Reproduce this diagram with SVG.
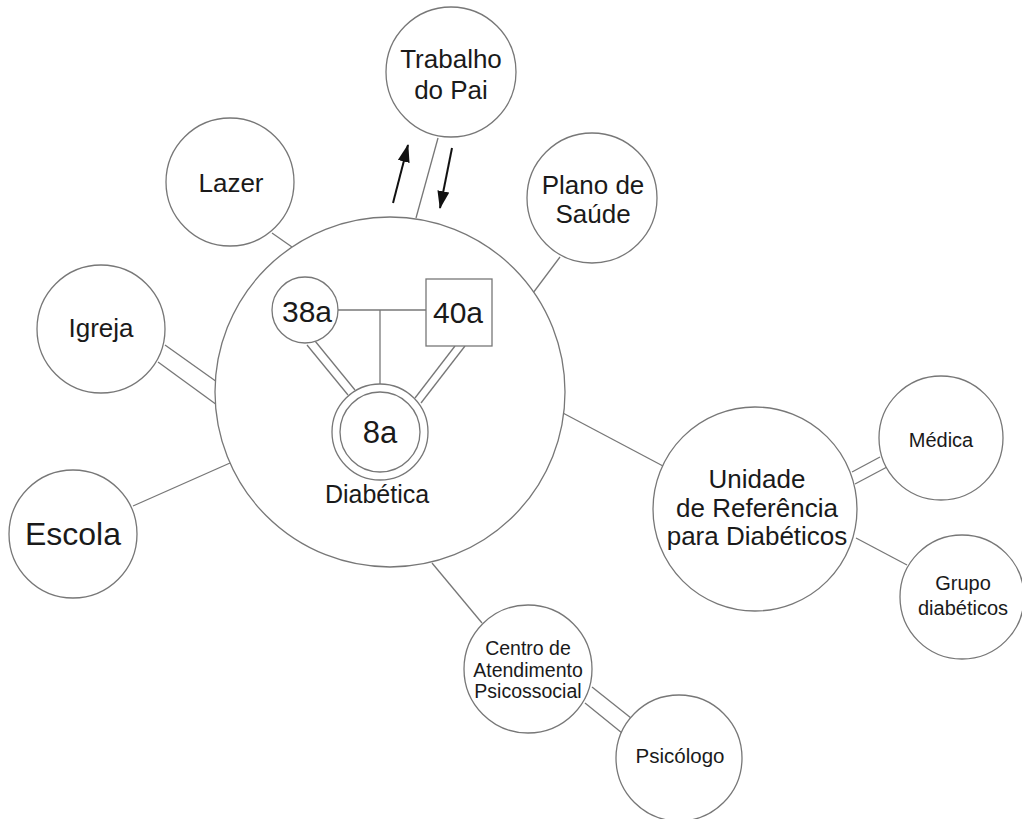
<svg xmlns="http://www.w3.org/2000/svg" width="1022" height="819" viewBox="0 0 1022 819">
<style>
.n{fill:#fff;stroke:#777;stroke-width:1.3}
.c line{stroke:#777;stroke-width:1.3}
text{font-family:"Liberation Sans",Arial,sans-serif;fill:#1a1a1a;text-anchor:middle}
.c line.ar{stroke:#111;stroke-width:2}
</style>
<defs>
<marker id="ah" viewBox="0 0 18 12" refX="17" refY="6" markerWidth="18" markerHeight="12" markerUnits="userSpaceOnUse" orient="auto">
<path d="M0,0 L18,6 L0,12 Z" fill="#111"/>
</marker>
</defs>
<rect width="1022" height="819" fill="#fff"/>
<g class="c" id="connectors">
<line x1="438" y1="138" x2="416" y2="218"/>
<line x1="272" y1="233" x2="292" y2="247"/>
<line x1="560" y1="257" x2="533" y2="293"/>
<line x1="165" y1="345" x2="217" y2="382"/>
<line x1="158" y1="362" x2="217" y2="405"/>
<line x1="133" y1="506" x2="230" y2="463"/>
<line x1="561" y1="412" x2="663" y2="466"/>
<line x1="432" y1="563" x2="482" y2="623"/>
<line x1="852" y1="472" x2="880" y2="457"/>
<line x1="855" y1="484" x2="887" y2="467"/>
<line x1="856" y1="538" x2="907" y2="565"/>
<line x1="592" y1="687" x2="631" y2="718"/>
<line x1="585" y1="703" x2="622" y2="733"/>
<line class="ar" x1="393" y1="203" x2="408" y2="145" marker-end="url(#ah)"/>
<line class="ar" x1="452" y1="148" x2="440" y2="208" marker-end="url(#ah)"/>
</g>
<g id="trabalho"><circle class="n" cx="451" cy="72" r="65"/><text x="451" y="68" font-size="26">Trabalho</text><text x="451" y="99" font-size="26">do Pai</text></g>
<g id="lazer"><circle class="n" cx="230" cy="182" r="64"/><text x="231" y="192" font-size="26">Lazer</text></g>
<g id="plano"><circle class="n" cx="592" cy="198" r="65"/><text x="593" y="194" font-size="26">Plano de</text><text x="593" y="223" font-size="26">Saúde</text></g>
<g id="igreja"><circle class="n" cx="101" cy="329" r="64"/><text x="101" y="337" font-size="26">Igreja</text></g>
<g id="escola"><circle class="n" cx="73" cy="534" r="64"/><text x="73" y="545" font-size="32">Escola</text></g>
<g id="familia">
<circle class="n" cx="390" cy="392" r="175"/>
<g class="c">
<line x1="338" y1="310" x2="426" y2="310"/>
<line x1="380" y1="310" x2="380" y2="384"/>
<line x1="307" y1="345" x2="348" y2="395"/>
<line x1="315" y1="341" x2="355" y2="390"/>
<line x1="455" y1="346" x2="415" y2="398"/>
<line x1="465" y1="346" x2="421" y2="403"/>
</g>
<g id="mae"><circle class="n" cx="305" cy="310" r="33"/><text x="307" y="322" font-size="30">38a</text></g>
<g id="pai"><rect class="n" x="426" y="279" width="66" height="67"/><text x="458" y="323" font-size="30">40a</text></g>
<g id="filha"><circle class="n" cx="380" cy="432" r="48"/><circle class="n" cx="380" cy="432" r="40"/><text x="380" y="443" font-size="31">8a</text><text x="377" y="503" font-size="25">Diabética</text></g>
</g>
<g id="unidade"><circle class="n" cx="755" cy="509" r="102"/><text x="757" y="488" font-size="26">Unidade</text><text x="757" y="517" font-size="26">de Referência</text><text x="757" y="545" font-size="26">para Diabéticos</text></g>
<g id="medica"><circle class="n" cx="941" cy="438" r="62"/><text x="941" y="447" font-size="20">Médica</text></g>
<g id="grupo"><circle class="n" cx="962" cy="597" r="62"/><text x="963" y="590" font-size="20">Grupo</text><text x="963" y="615" font-size="20">diabéticos</text></g>
<g id="centro"><circle class="n" cx="528" cy="669" r="64"/><text x="528" y="655" font-size="19.5">Centro de</text><text x="528" y="677" font-size="19.5">Atendimento</text><text x="528" y="698" font-size="19.5">Psicossocial</text></g>
<g id="psicologo"><circle class="n" cx="679" cy="758" r="63"/><text x="680" y="763" font-size="20.5">Psicólogo</text></g>
</svg>
